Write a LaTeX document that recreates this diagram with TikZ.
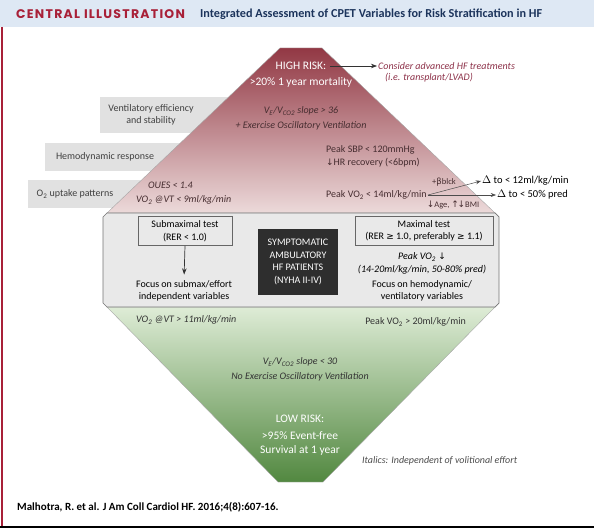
\documentclass[tikz,border=0pt]{standalone}
\usepackage{fontspec}
\setmainfont{Carlito}
\newfontfamily\headfont{Poppins}[LetterSpace=10]
\newfontfamily\glyphs{DejaVu Sans}
\usetikzlibrary{arrows.meta}

\definecolor{riskred}{RGB}{146,56,68}
\definecolor{riskmid}{RGB}{196,134,140}
\definecolor{riskpink}{RGB}{236,218,218}
\definecolor{safegreen}{RGB}{82,136,64}
\definecolor{safemid}{RGB}{160,198,142}
\definecolor{safelight}{RGB}{222,236,214}
\definecolor{bandgray}{RGB}{233,233,233}
\definecolor{taggray}{RGB}{225,225,225}
\definecolor{titleblue}{RGB}{222,232,244}
\definecolor{titlered}{RGB}{168,32,56}
\definecolor{titlenavy}{RGB}{28,52,92}
\definecolor{noteplum}{RGB}{140,48,72}
\definecolor{inkbrown}{RGB}{70,45,48}

\newcommand{\dnarr}{{\glyphs\small ↓}}
\newcommand{\uparr}{{\glyphs\small ↑}}

\begin{document}
\begin{tikzpicture}[x=1pt, y=-1pt, >=Stealth,
    lbl/.style={font=\fontsize{10}{12}\selectfont, inner sep=1pt, align=center},
    itl/.style={font=\fontsize{10}{12}\selectfont\itshape, inner sep=1pt, align=center},
    risk/.style={font=\fontsize{11.5}{14}\selectfont, text=white, inner sep=1pt, align=center},
    testbox/.style={draw=black!60, line width=0.7pt, fill=bandgray, align=center,
      font=\fontsize{10}{12.5}\selectfont, inner sep=2pt, minimum height=29pt}]
    \useasboundingbox (0,0) rectangle (594,529);

    % Title
    \fill[titleblue] (0,0) rectangle (594,27);
    \node[anchor=west, inner sep=0pt, text=titlered, font=\headfont\bfseries\fontsize{12.5}{14}\selectfont] (ctitle) at (16,14) {CENTRAL ILLUSTRATION};
    \node[anchor=west, inner sep=0pt, text=titlenavy, font=\bfseries\fontsize{12.2}{14}\selectfont] (mtitle) at (200,14) {Integrated Assessment of CPET Variables for Risk Stratification in HF};

    % Frame
    \draw[titlered, line width=1.5pt] (2,27) -- (2,527);
    \draw[black, line width=1.2pt] (0,527) -- (594,527);

    % Variable tags (behind triangle)
    \fill[taggray] (100,97) rectangle (260,133);
    \fill[taggray] (45,143) rectangle (230,171);
    \fill[taggray] (28,180) rectangle (200,208);
    \node[lbl, text=black!75] (vent) at (151,115) {Ventilatory efficiency\\and stability};
    \node[lbl, text=black!75] (hemo) at (105,157) {Hemodynamic response};
    \node[lbl, text=black!75] (otwo) at (75,194) {O\textsubscript{2} uptake patterns};

    % High risk triangle
    \shade[top color=riskred, middle color=riskmid, bottom color=riskpink]
      (280,48) -- (322,48) -- (495,213) -- (107,213) -- cycle;
    \draw[black!35, line width=0.4pt] (280,48) -- (322,48) -- (495,213) -- (107,213) -- cycle;

    % Green low risk triangle
    \shade[top color=safelight, middle color=safemid, bottom color=safegreen]
      (107,307) -- (495,307) -- (323,482) -- (278,482) -- cycle;
    \draw[black!35, line width=0.4pt] (107,307) -- (495,307) -- (323,482) -- (278,482) -- cycle;

    % Middle band
    \draw[black!55, line width=0.7pt, fill=bandgray]
      (107,213) -- (495,213) -- (499,217) -- (499,303) -- (495,307) -- (107,307) -- (103,303) -- (103,217) -- cycle;

    % High risk texts
    \node[risk] (hrisk) at (301,66) {HIGH RISK:};
    \node[risk] (hmort) at (301,82) {>20\% 1 year mortality};
    \node[itl, anchor=west, text=noteplum] (consider) at (377,66) {Consider advanced HF treatments};
    \node[itl, anchor=west, text=noteplum] (lvad) at (384,78) {(i.e. transplant/LVAD)};
    \draw[->, black!80, line width=0.7pt, shorten <=3pt] (hrisk.east) -- (consider.west);

    \node[itl, text=inkbrown] (veslope) at (301,111) {V\textsubscript{E}/V\textsubscript{CO2} slope > 36};
    \node[itl, text=inkbrown] (eovhi) at (301,126) {+ Exercise Oscillatory Ventilation};
    \node[lbl, anchor=west, text=inkbrown] (sbp) at (325,150) {Peak SBP < 120mmHg};
    \node[lbl, anchor=west, text=inkbrown] (hrr) at (325,163) {\dnarr HR recovery (<6bpm)};
    \node[itl, anchor=west, text=inkbrown] (oues) at (147,185) {OUES < 1.4};
    \node[itl, anchor=west, text=inkbrown] (vtlo) at (135,200) {VO\textsubscript{2} @VT < 9ml/kg/min};
    \node[lbl, anchor=west, text=inkbrown] (pvlo) at (325,195) {Peak VO\textsubscript{2} < 14ml/kg/min};
    \node[lbl, text=inkbrown, font=\fontsize{8.5}{10}\selectfont] (bblk) at (444,182) {+{\glyphs β}blck};
    \node[lbl, text=inkbrown, font=\fontsize{8.5}{10}\selectfont] (agebmi) at (453,205) {\dnarr Age, \uparr\!\dnarr BMI};
    \node[lbl, anchor=west, font=\fontsize{10.5}{12}\selectfont] (dtwelve) at (481,181) {$\Delta$ to < 12ml/kg/min};
    \node[lbl, anchor=west, font=\fontsize{10.5}{12}\selectfont] (dfifty) at (496,195) {$\Delta$ to < 50\% pred};
    \draw[->, black!70, line width=0.5pt] (pvlo.east) -- (dtwelve.west);
    \draw[->, black!70, line width=0.5pt] (pvlo.east) -- (dfifty.west);

    % Middle band contents
    \node[testbox, minimum width=94pt] (submax) at (185,231) {Submaximal test\\(RER < 1.0)};
    \node[lbl] (focsub) at (184,291) {Focus on submax/effort\\independent variables};
    \draw[->, black!80, line width=0.7pt, shorten >=5pt] (submax.south) -- (focsub.north);

    \node[fill=black!82, text=white, align=center, font=\fontsize{10}{12.5}\selectfont, minimum width=80pt, minimum height=66pt, inner sep=2pt] (patients) at (298,262) {SYMPTOMATIC\\AMBULATORY\\HF PATIENTS\\(NYHA II-IV)};

    \node[testbox, minimum width=138pt] (maxtest) at (424,231) {Maximal test\\(RER {\glyphs\small ≥} 1.0, preferably {\glyphs\small ≥} 1.1)};
    \node[itl] (pvdrop) at (422,257) {Peak VO\textsubscript{2} \dnarr};
    \node[itl] (pvrange) at (422,270) {(14-20ml/kg/min, 50-80\% pred)};
    \node[lbl] (focmax) at (422,291) {Focus on hemodynamic/\\ventilatory variables};

    % Low risk texts
    \node[itl, anchor=west, text=black!80] (vthi) at (135,320) {VO\textsubscript{2} @VT > 11ml/kg/min};
    \node[lbl, anchor=east, text=black!80] (pvhi) at (467,322) {Peak VO\textsubscript{2} > 20ml/kg/min};
    \node[itl, text=black!80] (velo) at (300,362) {V\textsubscript{E}/V\textsubscript{CO2} slope < 30};
    \node[itl, text=black!80] (eovlo) at (300,377) {No Exercise Oscillatory Ventilation};
    \node[risk] (lrisk) at (300,419) {LOW RISK:};
    \node[risk] (lsurv) at (300,443) {>95\% Event-free\\Survival at 1 year};
    \node[itl, anchor=west, text=black!70] (italnote) at (361,461) {Italics: Independent of volitional effort};

    % Citation
    \node[anchor=west, inner sep=0pt, font=\bfseries\fontsize{11}{13}\selectfont] (cite) at (17,507) {Malhotra, R. et al. J Am Coll Cardiol HF. 2016;4(8):607-16.};
  \end{tikzpicture}
\end{document}
